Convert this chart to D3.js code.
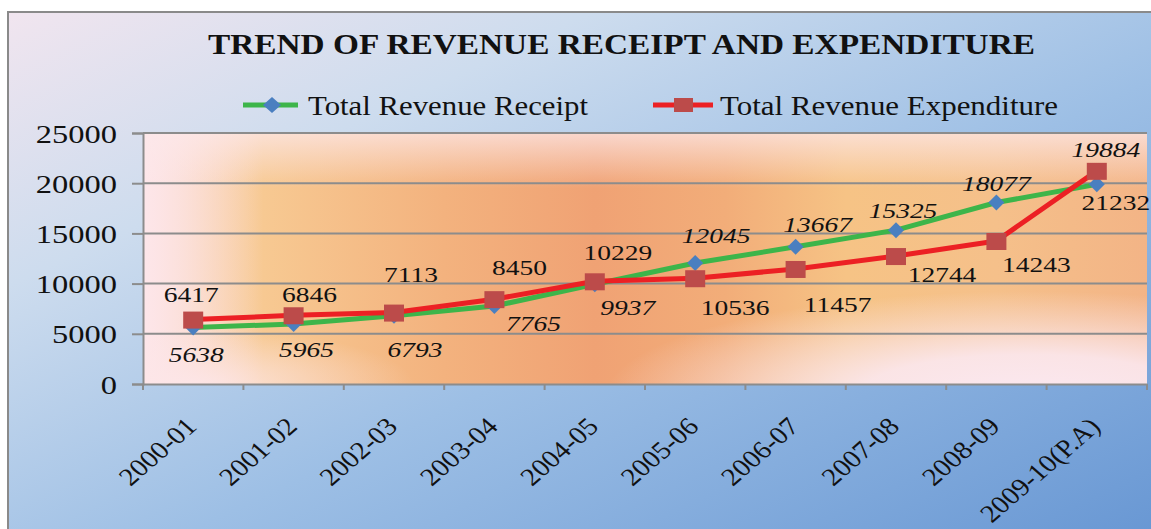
<!DOCTYPE html>
<html>
<head>
<meta charset="utf-8">
<script src="https://cdn.jsdelivr.net/npm/d3@7"></script>
<style>
  html, body { margin: 0; padding: 0; background: #ffffff; }
  svg { display: block; }
  text { font-family: "Liberation Serif", "Times New Roman", serif; fill: #111; }
</style>
</head>
<body>
<div id="chart"></div>
<script>
// ---- data ----
const categories = ["2000-01","2001-02","2002-03","2003-04","2004-05","2005-06","2006-07","2007-08","2008-09","2009-10(P.A)"];
const receipt = [5638, 5965, 6793, 7765, 9937, 12045, 13667, 15325, 18077, 19884];
const expenditure = [6417, 6846, 7113, 8450, 10229, 10536, 11457, 12744, 14243, 21232];
const yTicks = [0, 5000, 10000, 15000, 20000, 25000];
const seriesNames = ["Total Revenue Receipt", "Total Revenue Expenditure"];
const titleText = "TREND OF REVENUE RECEIPT AND EXPENDITURE";

// ---- label placement (offsets from each point, in px) ----
const receiptLabelOffsets = [[3,35],[13,33],[21,41],[39,25],[33,31],[21,-20],[22,-15],[7,-12],[0,-12],[9,-27]];
const expenditureLabelOffsets = [[-2,-18],[16,-13],[17,-31],[25,-24],[23,-21],[40,37],[42,43],[46,26],[40,31],[19,39]];

const W = 1151, H = 529;
const SX = 1.3; // horizontal stretch of glyphs seen in the picture

const svg = d3.select("#chart").append("svg").attr("width", W).attr("height", H);
const defs = svg.append("defs");

function linGrad(id, x2, y2, stops) {
  const g = defs.append("linearGradient").attr("id", id)
    .attr("x1","0").attr("y1","0").attr("x2",x2).attr("y2",y2);
  stops.forEach(([o,c,a]) => g.append("stop").attr("offset",o).attr("stop-color",c).attr("stop-opacity", a == null ? 1 : a));
}
function radGrad(id, cxp, cyp, r, stops) {
  const g = defs.append("radialGradient").attr("id", id)
    .attr("cx",cxp).attr("cy",cyp).attr("r",r).attr("fx",cxp).attr("fy",cyp);
  stops.forEach(([o,c,a]) => g.append("stop").attr("offset",o).attr("stop-color",c).attr("stop-opacity", a == null ? 1 : a));
}

linGrad("outerBg", 1, 1, [["0%","#f1e5ef"],["25%","#cddcee"],["55%","#9dbfe5"],["100%","#6494d2"]]);
linGrad("plotBase", 1, 0, [["0%","#f9d6c6"],["12%","#f7c992"],["30%","#f3b27e"],["45%","#f0a274"],["58%","#f2ad79"],["70%","#f6c385"],["85%","#f5c08a"],["100%","#f3b486"]]);
linGrad("plotLeft", 1, 0, [["0%","#fde6ea",1],["4%","#fde6ea",0.7],["12%","#fde6ea",0]]);
linGrad("plotTop", 0, 1, [["0%","#fde8ea",0.75],["22%","#fde8ea",0]]);
radGrad("plotBR", 0.88, 1.05, 0.42, [["0%","#fbe8f0",1],["40%","#fbe8f0",0.9],["100%","#fbe8f0",0]]);
radGrad("plotBL", 0.05, 1.0, 0.22, [["0%","#fde6e8",0.9],["100%","#fde6e8",0]]);

// outer chart frame
svg.append("rect").attr("x", 8).attr("y", 12).attr("width", W + 20).attr("height", H + 20)
  .attr("fill","url(#outerBg)").attr("stroke","#8a8a8a").attr("stroke-width",2);

// scales
const x = d3.scaleBand().domain(categories).range([143, 1147]);
const y = d3.scaleLinear().domain([0, 25000]).range([384, 133]);
const cx = c => x(c) + x.bandwidth() / 2;

// plot area
const px0 = x.range()[0], px1 = x.range()[1], py0 = y(25000), py1 = y(0);
["plotBase","plotLeft","plotTop","plotBR","plotBL"].forEach(id =>
  svg.append("rect").attr("x",px0).attr("y",py0).attr("width",px1-px0).attr("height",py1-py0).attr("fill",`url(#${id})`));

// helper: stretched text
function stretch(sel, sx) {
  sel.each(function() {
    const t = d3.select(this);
    const tx = +t.attr("x") || 0, ty = +t.attr("y") || 0;
    t.attr("x", 0).attr("y", 0).attr("transform", `translate(${tx},${ty}) scale(${sx},1)`);
  });
}

// gridlines
svg.append("g").selectAll("line").data(yTicks.filter(v => v > 0)).join("line")
  .attr("x1", px0).attr("x2", px1).attr("y1", d => y(d)).attr("y2", d => y(d))
  .attr("stroke","#8c8c8c").attr("stroke-width",2);

// y axis
const yAxis = svg.append("g").attr("transform", `translate(${px0},0)`)
  .call(d3.axisLeft(y).tickValues(yTicks).tickSize(11).tickPadding(15).tickFormat(d3.format("d")));
yAxis.select(".domain").attr("stroke","#8c8c8c").attr("stroke-width",2);
yAxis.selectAll(".tick line").attr("stroke","#8c8c8c").attr("stroke-width",2);
yAxis.selectAll(".tick text")
  .attr("font-size", 25).attr("font-family", "Liberation Serif, serif").attr("fill","#111")
  .attr("dy", null)
  .each(function() {
    d3.select(this).attr("transform", `translate(-26,9) scale(${SX},1)`).attr("x",0).attr("y",0);
  });

// x axis
const xAxis = svg.append("g").attr("transform", `translate(0,${py1})`)
  .call(d3.axisBottom(x).tickSize(0).tickPadding(0));
xAxis.select(".domain").attr("stroke","#8c8c8c").attr("stroke-width",2);
xAxis.selectAll(".tick text")
  .attr("font-size", 25).attr("font-family", "Liberation Serif, serif").attr("fill","#111")
  .attr("text-anchor","end").attr("dy", null).attr("x",0).attr("y",0)
  .attr("transform", `translate(5,44) scale(1.15,1) rotate(-45)`);
// boundary ticks
const bounds = categories.map(c => x(c)).concat([px1]);
svg.append("g").selectAll("line").data(bounds).join("line")
  .attr("x1", d => d).attr("x2", d => d).attr("y1", py1).attr("y2", py1 + 6)
  .attr("stroke","#8c8c8c").attr("stroke-width",2);

// lines
const line = d3.line().x(d => cx(d[0])).y(d => y(d[1]));
const recPts = categories.map((c,i) => [c, receipt[i]]);
const expPts = categories.map((c,i) => [c, expenditure[i]]);

svg.append("path").datum(recPts).attr("d", line).attr("fill","none")
  .attr("stroke","#3db54a").attr("stroke-width",5).attr("stroke-linejoin","round");
svg.append("g").selectAll("path").data(recPts).join("path")
  .attr("d", "M0,-8 L8,0 L0,8 L-8,0 Z")
  .attr("transform", d => `translate(${cx(d[0])},${y(d[1])})`)
  .attr("fill","#4a7fc0");

svg.append("path").datum(expPts).attr("d", line).attr("fill","none")
  .attr("stroke","#ec2024").attr("stroke-width",5).attr("stroke-linejoin","round");
svg.append("g").selectAll("rect").data(expPts).join("rect")
  .attr("x", d => cx(d[0]) - 10).attr("y", d => y(d[1]) - 8)
  .attr("width", 20).attr("height", 17).attr("fill","#bc4b4a");

// data labels
svg.append("g").selectAll("text").data(recPts).join("text")
  .attr("x", (d,i) => cx(d[0]) + receiptLabelOffsets[i][0])
  .attr("y", (d,i) => y(d[1]) + receiptLabelOffsets[i][1])
  .attr("text-anchor","middle").attr("font-size",22).attr("font-style","italic")
  .text(d => d[1]).call(stretch, 1.25);
svg.append("g").selectAll("text").data(expPts).join("text")
  .attr("x", (d,i) => cx(d[0]) + expenditureLabelOffsets[i][0])
  .attr("y", (d,i) => y(d[1]) + expenditureLabelOffsets[i][1])
  .attr("text-anchor","middle").attr("font-size",22)
  .text(d => d[1]).call(stretch, 1.25);

// title
svg.append("text").attr("x", 208).attr("y", 54).attr("font-size", 29).attr("font-weight","bold")
  .attr("textLength", 827).attr("lengthAdjust","spacingAndGlyphs").text(titleText);

// legend
const lg = svg.append("g");
lg.append("line").attr("x1",243).attr("x2",298).attr("y1",105).attr("y2",105)
  .attr("stroke","#3db54a").attr("stroke-width",5);
lg.append("path").attr("d","M0,-8 L9,0 L0,8 L-9,0 Z").attr("transform","translate(272,105)").attr("fill","#4a7fc0");
lg.append("text").attr("x",308).attr("y",115).attr("font-size",27)
  .attr("textLength",280).attr("lengthAdjust","spacingAndGlyphs").text(seriesNames[0]);
lg.append("line").attr("x1",653).attr("x2",713).attr("y1",105).attr("y2",105)
  .attr("stroke","#ec2024").attr("stroke-width",5);
lg.append("rect").attr("x",674).attr("y",98).attr("width",19).attr("height",14).attr("fill","#bc4b4a");
lg.append("text").attr("x",720).attr("y",115).attr("font-size",27)
  .attr("textLength",338).attr("lengthAdjust","spacingAndGlyphs").text(seriesNames[1]);
</script>
</body>
</html>
